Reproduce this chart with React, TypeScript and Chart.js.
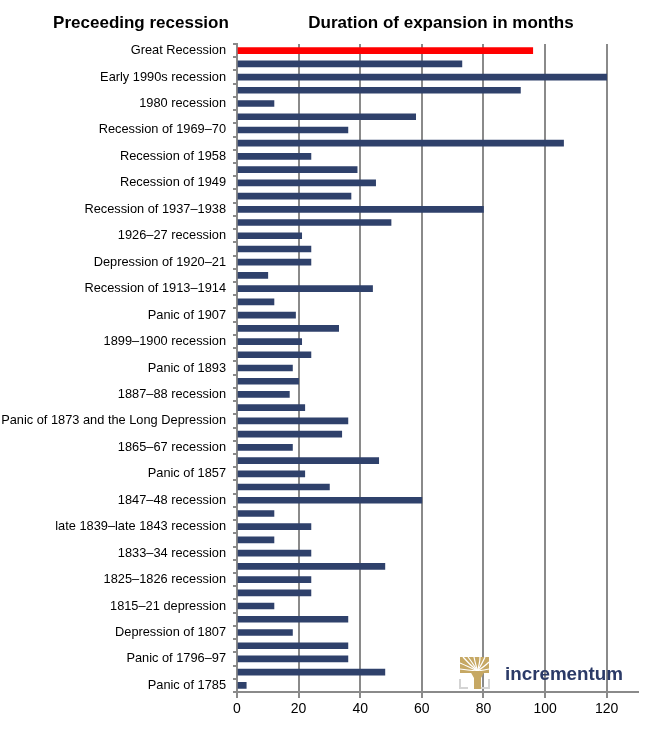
import React, { useEffect, useRef } from 'react';
import { Chart, registerables } from 'chart.js';

Chart.register(...registerables);

const categories: string[] = [
  'Great Recession', '',
  'Early 1990s recession', '',
  '1980 recession', '',
  'Recession of 1969–70', '',
  'Recession of 1958', '',
  'Recession of 1949', '',
  'Recession of 1937–1938', '',
  '1926–27 recession', '',
  'Depression of 1920–21', '',
  'Recession of 1913–1914', '',
  'Panic of 1907', '',
  '1899–1900 recession', '',
  'Panic of 1893', '',
  '1887–88 recession', '',
  'Panic of 1873 and the Long Depression', '',
  '1865–67 recession', '',
  'Panic of 1857', '',
  '1847–48 recession', '',
  'late 1839–late 1843 recession', '',
  '1833–34 recession', '',
  '1825–1826 recession', '',
  '1815–21 depression', '',
  'Depression of 1807', '',
  'Panic of 1796–97', '',
  'Panic of 1785',
];

const expansionMonths: number[] = [
  96, 73, 120, 92, 12, 58, 36, 106, 24, 39,
  45, 37, 80, 50, 21, 24, 24, 10, 44, 12,
  19, 33, 21, 24, 18, 20, 17, 22, 36, 34,
  18, 46, 22, 30, 60, 12, 24, 12, 24, 48,
  24, 24, 12, 36, 18, 36, 36, 48, 3,
];

const highlightIndex = 0;
const xTickMax = 130;
const xTickStep = 20;

const NAVY = '#2F416B';
const RED = '#FF0000';
const GRID = '#8A8A8A';
const GOLD = '#C6A864';
const FONT = '"Liberation Sans", Arial, Helvetica, sans-serif';

export default function App() {
  const canvasRef = useRef<HTMLCanvasElement | null>(null);

  useEffect(() => {
    if (!canvasRef.current) return;
    const chart = new Chart(canvasRef.current, {
      type: 'bar',
      data: {
        labels: categories,
        datasets: [
          {
            data: expansionMonths,
            backgroundColor: expansionMonths.map((_, i) => (i === highlightIndex ? RED : NAVY)),
            barThickness: 6,
            borderWidth: 0,
          },
        ],
      },
      options: {
        indexAxis: 'y',
        responsive: false,
        animation: false,
        devicePixelRatio: 1,
        layout: { padding: { left: 0, right: 24.5, top: 44, bottom: 0 } },
        plugins: {
          legend: { display: false },
          tooltip: { enabled: false },
          title: { display: false },
        },
        scales: {
          x: {
            type: 'linear',
            min: 0,
            max: xTickMax,
            ticks: {
              stepSize: xTickStep,
              includeBounds: false,
              color: '#000',
              padding: 3,
              maxRotation: 0,
              font: { family: FONT, size: 14 },
            },
            grid: { color: GRID, lineWidth: 2, tickLength: 6, drawTicks: true },
            border: { color: GRID, width: 2 },
            afterFit: (s: any) => {
              s.height = 42;
            },
          },
          y: {
            type: 'category',
            ticks: {
              autoSkip: false,
              color: '#000',
              padding: 7,
              font: { family: FONT, size: 12.8 },
              callback: (_v: any, i: number) => categories[i],
            },
            grid: { drawOnChartArea: false, color: GRID, lineWidth: 2, tickLength: 4, offset: true },
            border: { color: GRID, width: 2 },
            afterFit: (s: any) => {
              s.width = 237;
            },
          },
        },
      },
    });
    return () => chart.destroy();
  }, []);

  const titleStyle: React.CSSProperties = {
    position: 'absolute',
    top: 13,
    fontFamily: FONT,
    fontWeight: 'bold',
    fontSize: 17,
    lineHeight: '20px',
    color: '#000',
    textAlign: 'center',
    whiteSpace: 'nowrap',
  };

  return (
    <div style={{ position: 'fixed', left: 0, top: 0, width: 662, height: 734, background: '#fff', overflow: 'hidden' }}>
      <canvas ref={canvasRef} width={662} height={734} style={{ position: 'absolute', left: 0, top: 0 }} />
      <div style={{ ...titleStyle, left: 41, width: 200 }}>Preceeding recession</div>
      <div style={{ ...titleStyle, left: 291, width: 300 }}>Duration of expansion in months</div>
      <svg width={180} height={45} style={{ position: 'absolute', left: 455, top: 650 }}>
        <rect x={5} y={7} width={29} height={16} fill={GOLD} />
        <g stroke="#fff" strokeWidth={1.2} fill="none">
          <path d="M22.5 21 Q14 14 8 7" />
          <path d="M22.5 21 Q17 12 13 7" />
          <path d="M22.5 21 Q20 12 19 7" />
          <path d="M22.5 21 Q25 12 25 7" />
          <path d="M22.5 21 Q28 12 30 7" />
          <path d="M22.5 21 Q30 16 34 12" />
          <path d="M22.5 21 Q12 16 5 13" />
          <path d="M22.5 21 Q12 20 5 19" />
          <path d="M22.5 21 Q30 20 34 19" />
        </g>
        <polygon points="15,21 30,21 26,28 26,39 19,39 19,28" fill={GOLD} />
        <polyline points="5,29 5,38 13,38" fill="none" stroke="#D4D4D4" strokeWidth={2} />
        <polyline points="34,29 34,38 26,38" fill="none" stroke="#D4D4D4" strokeWidth={2} />
        <text x={50} y={30} fontFamily={FONT} fontWeight="bold" fontSize={19} fill="#2B3A67" textLength={118} lengthAdjust="spacingAndGlyphs">
          incrementum
        </text>
      </svg>
    </div>
  );
}
